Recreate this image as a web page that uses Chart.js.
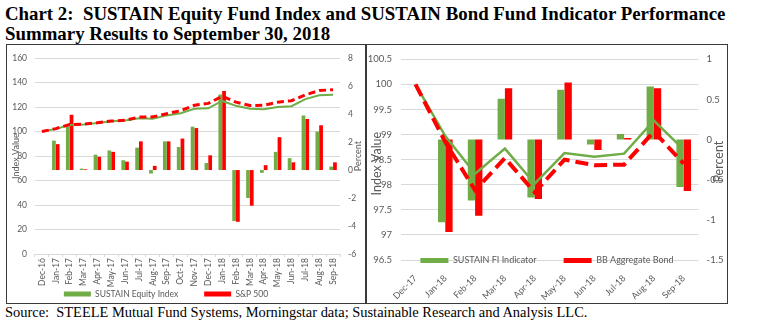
<!DOCTYPE html>
<html>
<head>
<meta charset="utf-8">
<script src="https://cdn.jsdelivr.net/npm/chart.js@4.4.0/dist/chart.umd.min.js"></script>
<style>
  html, body { margin: 0; padding: 0; background: #fff; }
  body { width: 760px; height: 325px; position: relative; overflow: hidden; }
  .title { position: absolute; left: 5px; font: bold 19px "Liberation Serif", "Times New Roman", serif; line-height: 20px; color: #000; white-space: nowrap; transform-origin: 0 0; }
  .source { position: absolute; left: 5px; top: 304px; font: 14px "Liberation Serif", "Times New Roman", serif; line-height: 17px; color: #000; white-space: nowrap; transform-origin: 0 0; }
  .panel { position: absolute; top: 44px; height: 260px; border: 1px solid #3a3a3a; box-sizing: border-box; }
  .panel canvas { position: absolute; left: 0; top: 0; }
</style>
</head>
<body>
<div class="title" id="t1" style="top:4px">Chart 2:&nbsp; SUSTAIN Equity Fund Index and SUSTAIN Bond Fund Indicator Performance</div>
<div class="title" id="t2" style="top:24px">Summary Results to September 30, 2018</div>

<div class="panel" style="left:6px; width:360px;"><canvas id="equity" width="358" height="258"></canvas></div>
<div class="panel" style="left:366px; width:362px;"><canvas id="bond" width="360" height="258"></canvas></div>

<div class="source" id="src">Source:&nbsp; STEELE Mutual Fund Systems, Morningstar data; Sustainable Research and Analysis LLC.</div>

<script>
// equity panel: monthly returns (bars, %) and cumulative index (lines, Dec-16 = 100)
const equityMonths = ['Dec-16', 'Jan-17', 'Feb-17', 'Mar-17', 'Apr-17', 'May-17', 'Jun-17', 'Jul-17', 'Aug-17', 'Sep-17', 'Oct-17', 'Nov-17',
  'Dec-17', 'Jan-18', 'Feb-18', 'Mar-18', 'Apr-18', 'May-18', 'Jun-18', 'Jul-18', 'Aug-18', 'Sep-18'];
const sustainEquityReturn = [null, 2.1, 3.1, 0.1, 1.1, 1.4, 0.7, 1.6, -0.25, 2.05, 1.65, 3.1, 0.5, 5.4, -3.65, -2.0, -0.2, 1.3, 0.85, 3.9, 2.75, 0.25];
const sp500Return = [null, 1.85, 3.95, 0.05, 0.95, 1.3, 0.6, 2.05, 0.3, 2.05, 2.25, 3.0, 1.05, 5.65, -3.7, -2.55, 0.35, 2.35, 0.55, 3.65, 3.2, 0.55];
const sustainEquityIndex = [100, 102.2, 105.4, 105.8, 107, 108.5, 109.1, 110.8, 110.5, 113.2, 115, 118.6, 119, 125, 121, 118.6, 118.2, 120, 120.7, 126.5, 129.6, 130];
const sp500Index = [100, 102.4, 105.8, 106, 107.2, 108.6, 109.2, 111.8, 112, 114.6, 117, 121.5, 123, 128.8, 124, 121.3, 121.5, 124, 125.2, 130, 133.5, 134.2];

// bond panel: monthly returns (bars, %) and cumulative index (lines, Dec-17 = 100)
const bondMonths = ['Dec-17', 'Jan-18', 'Feb-18', 'Mar-18', 'Apr-18', 'May-18', 'Jun-18', 'Jul-18', 'Aug-18', 'Sep-18'];
const sustainFiReturn = [null, -1.03, -0.76, 0.51, -0.72, 0.62, -0.06, 0.07, 0.66, -0.59];
const bbAggReturn = [null, -1.15, -0.95, 0.64, -0.74, 0.71, -0.13, 0.02, 0.64, -0.64];
const sustainFiIndex = [100, 98.97, 98.22, 98.72, 98.02, 98.63, 98.56, 98.62, 99.28, 98.7];
const bbAggIndex = [100, 98.85, 97.89, 98.53, 97.85, 98.5, 98.39, 98.4, 99.06, 98.42];

const GREEN = '#70ad47';
const RED = '#ff0000';
const GRID = '#d9d9d9';
const FONT = 'Lato, "Liberation Sans", sans-serif';

Chart.defaults.font.family = FONT;
Chart.defaults.color = '#595959';

// the legend takes (almost) no room in the layout; it gets moved so its row
// is centred dy below the plot, and its clip box is opened back up
function placeLegend(dx, dy) {
  return {
    id: 'placeLegend',
    afterLayout(chart) {
      const lg = chart.legend;
      const pad = lg.options.labels.padding;
      const fs = lg.options.labels.font.size;
      lg.top = chart.chartArea.bottom + dy - pad - fs / 2;
      lg.bottom = lg.top + 2 * pad + fs + 4;
      lg.height = lg.bottom - lg.top;
      lg.left += dx;
      lg.right += dx;
    }
  };
}

// vertical axis titles, drawn over the tick label strip
function sideTitles(size, items) {
  return {
    id: 'sideTitles',
    afterDraw(chart) {
      const { ctx, chartArea } = chart;
      const mid = (chartArea.top + chartArea.bottom) / 2;
      ctx.save();
      ctx.font = size + 'px ' + FONT;
      ctx.fillStyle = '#595959';
      ctx.textAlign = 'center';
      ctx.textBaseline = 'middle';
      items.forEach(t => {
        const s = chart.scales[t.axis];
        const x = s.position === 'left' ? s.left + t.inset : s.right - t.inset;
        ctx.save();
        ctx.translate(x, mid + (t.dy || 0));
        ctx.rotate(-Math.PI / 2);
        ctx.fillText(t.text, 0, 0);
        ctx.restore();
      });
      ctx.restore();
    }
  };
}

function fixSize(prop, value) {
  return scale => { scale[prop] = value; };
}

// "100", "99.5", "-1" rather than a fixed number of decimals
const plainNumber = v => String(Math.round(v * 100) / 100);

new Chart(document.getElementById('equity'), {
  type: 'bar',
  data: {
    labels: equityMonths,
    datasets: [
      { label: 'SUSTAIN Equity Index', data: sustainEquityReturn, backgroundColor: GREEN, yAxisID: 'pct', order: 2 },
      { label: 'S&P 500', data: sp500Return, backgroundColor: RED, yAxisID: 'pct', order: 2 },
      { type: 'line', label: 'SUSTAIN Equity Index (index)', data: sustainEquityIndex, borderColor: GREEN, borderWidth: 2,
        pointRadius: 0, tension: 0, yAxisID: 'idx', order: 1 },
      { type: 'line', label: 'S&P 500 (index)', data: sp500Index, borderColor: RED, borderWidth: 3, borderDash: [7, 4],
        borderCapStyle: 'butt', pointRadius: 0, tension: 0, yAxisID: 'idx', order: 0 }
    ]
  },
  options: {
    responsive: false,
    animation: false,
    events: [],
    layout: { padding: { top: 11.7, right: 0, bottom: 0, left: 0 } },
    datasets: { bar: { categoryPercentage: 0.54, barPercentage: 1 } },
    scales: {
      x: {
        ticks: { autoSkip: false, minRotation: 90, maxRotation: 90, padding: 1, font: { size: 8.5 } },
        grid: { drawOnChartArea: false, tickLength: 3, color: GRID },
        border: { display: false },
        afterFit: fixSize('height', 48)
      },
      idx: {
        position: 'left', min: 0, max: 160,
        ticks: { stepSize: 20, padding: 8, font: { size: 8.5 }, callback: plainNumber },
        grid: { color: GRID, drawTicks: false },
        border: { display: false },
        afterFit: fixSize('width', 28)
      },
      pct: {
        position: 'right', min: -6, max: 8,
        ticks: { stepSize: 2, padding: 8, font: { size: 8.5 }, callback: plainNumber },
        grid: { display: false, drawTicks: false },
        border: { display: false },
        afterFit: fixSize('width', 25)
      }
    },
    plugins: {
      legend: {
        position: 'bottom',
        maxHeight: 1,
        labels: { filter: item => item.datasetIndex < 2, boxWidth: 27, boxHeight: 5, padding: 26, font: { size: 8.5 } }
      },
      tooltip: { enabled: false }
    }
  },
  plugins: [
    placeLegend(-20, 40),
    sideTitles(9, [
      { axis: 'idx', text: 'Index Value', inset: 9.5 },
      { axis: 'pct', text: 'Percent', inset: 6.5 }
    ])
  ]
});

new Chart(document.getElementById('bond'), {
  type: 'bar',
  data: {
    labels: bondMonths,
    datasets: [
      { label: 'SUSTAIN FI Indicator', data: sustainFiReturn, backgroundColor: GREEN, yAxisID: 'pct', order: 2 },
      { label: 'BB Aggregate Bond', data: bbAggReturn, backgroundColor: RED, yAxisID: 'pct', order: 2 },
      { type: 'line', label: 'SUSTAIN FI Indicator (index)', data: sustainFiIndex, borderColor: GREEN, borderWidth: 2.5,
        pointRadius: 0, tension: 0, yAxisID: 'idx', order: 1 },
      { type: 'line', label: 'BB Aggregate Bond (index)', data: bbAggIndex, borderColor: RED, borderWidth: 4, borderDash: [13, 6],
        borderCapStyle: 'butt', pointRadius: 0, tension: 0, yAxisID: 'idx', order: 0 }
    ]
  },
  options: {
    responsive: false,
    animation: false,
    events: [],
    layout: { padding: { top: 6.3, right: 0, bottom: 0, left: 0 } },
    datasets: { bar: { categoryPercentage: 0.49, barPercentage: 1 } },
    scales: {
      x: {
        ticks: { autoSkip: false, minRotation: 45, maxRotation: 45, padding: 5, font: { size: 9 } },
        grid: { display: false },
        border: { display: false },
        afterFit: fixSize('height', 42)
      },
      idx: {
        position: 'left', min: 96.5, max: 100.5,
        ticks: { stepSize: 0.5, padding: 8.6, font: { size: 9.5 }, callback: plainNumber },
        grid: { color: GRID, drawTicks: false },
        border: { display: false },
        afterFit: fixSize('width', 33.6)
      },
      pct: {
        position: 'right', min: -1.5, max: 1,
        ticks: { stepSize: 0.5, padding: 8, font: { size: 9.5 }, callback: plainNumber },
        grid: { display: false, drawTicks: false },
        border: { display: false },
        afterFit: fixSize('width', 28.4)
      }
    },
    plugins: {
      legend: {
        position: 'bottom',
        maxHeight: 1,
        labels: { filter: item => item.datasetIndex < 2, boxWidth: 28, boxHeight: 5, padding: 27, font: { size: 9 } }
      },
      tooltip: { enabled: false }
    }
  },
  plugins: [
    placeLegend(0, 0.5),
    sideTitles(12.5, [
      { axis: 'idx', text: 'Index Value', inset: 10, dy: 4 },
      { axis: 'pct', text: 'Percent', inset: 8, dy: 2 }
    ])
  ]
});

// squeeze the serif heading lines to their set widths
function fitText() {
  const t1 = document.getElementById('t1');
  const t2 = document.getElementById('t2');
  const src = document.getElementById('src');
  const k = 720 / t1.scrollWidth;
  t1.style.transform = 'scaleX(' + k + ')';
  t2.style.transform = 'scaleX(' + k + ')';
  src.style.transform = 'scaleX(' + (582 / src.scrollWidth) + ')';
}
fitText();
if (document.fonts) document.fonts.ready.then(fitText);
</script>
</body>
</html>
